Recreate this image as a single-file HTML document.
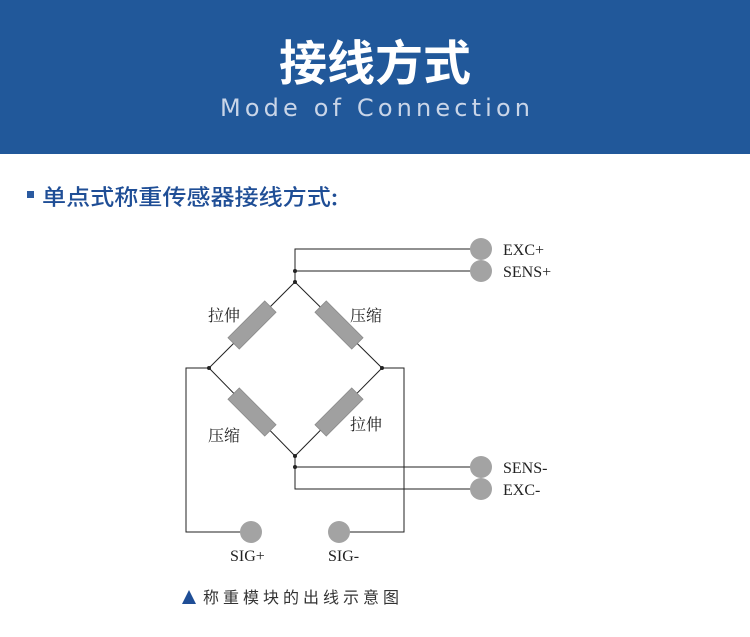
<!DOCTYPE html>
<html><head><meta charset="utf-8"><style>
body{margin:0;width:750px;height:632px;background:#fff;overflow:hidden}
</style></head><body>
<svg width="750" height="632" viewBox="0 0 750 632" xmlns="http://www.w3.org/2000/svg">
<rect x="0" y="0" width="750" height="154" fill="#21589a"/>
<text x="375" y="80" text-anchor="middle" font-family="Noto Sans CJK SC, sans-serif" font-size="48" font-weight="bold" fill="#fff">接线方式</text>
<text x="220" y="116" textLength="310" lengthAdjust="spacing" font-family="DejaVu Sans, sans-serif" font-size="24" fill="#c9d5e8">Mode of Connection</text>
<rect x="27" y="191" width="7" height="7" fill="#2a5aa0"/>
<text x="42" y="205" font-family="Noto Sans CJK SC, sans-serif" font-size="22" font-weight="500" fill="#1f4e96" textLength="296" lengthAdjust="spacingAndGlyphs">单点式称重传感器接线方式:</text>
<g stroke="#222" stroke-width="1" fill="none">
<polyline points="295,282 295,249 471,249"/>
<line x1="295" y1="271" x2="471" y2="271"/>
<polygon points="295,282 382,368 295,456 209,368"/>
<polyline points="295,456 295,489 471,489"/>
<line x1="295" y1="467" x2="471" y2="467"/>
<polyline points="209,368 186,368 186,532 241,532"/>
<polyline points="382,368 404,368 404,532 349,532"/>
</g>
<g fill="#222"><circle cx="295" cy="271" r="2"/><circle cx="295" cy="282" r="2"/><circle cx="209" cy="368" r="2"/><circle cx="382" cy="368" r="2"/><circle cx="295" cy="456" r="2"/><circle cx="295" cy="467" r="2"/></g>
<g fill="#a0a0a0" stroke="#8a8a8a" stroke-width="0.8">
<rect x="-26" y="-8" width="52" height="16" transform="translate(252,325) rotate(-45)"/>
<rect x="-26" y="-8" width="52" height="16" transform="translate(339,325) rotate(45)"/>
<rect x="-26" y="-8" width="52" height="16" transform="translate(252,412) rotate(45)"/>
<rect x="-26" y="-8" width="52" height="16" transform="translate(339,412) rotate(-45)"/>
</g>
<g fill="#a3a3a3">
<circle cx="481" cy="249" r="11"/><circle cx="481" cy="271" r="11"/>
<circle cx="481" cy="467" r="11"/><circle cx="481" cy="489" r="11"/>
<circle cx="251" cy="532" r="11"/><circle cx="339" cy="532" r="11"/>
</g>
<g font-family="Liberation Serif, Noto Serif CJK SC, serif" font-size="16" fill="#222">
<text x="503" y="255">EXC+</text><text x="503" y="277">SENS+</text>
<text x="503" y="473">SENS-</text><text x="503" y="495">EXC-</text>
<text x="230" y="561">SIG+</text><text x="328" y="561">SIG-</text>
<text x="208" y="321">拉伸</text><text x="350" y="321">压缩</text>
<text x="208" y="441">压缩</text><text x="350" y="430">拉伸</text>
</g>
<polygon points="189,590 182,604 196,604" fill="#1f4e96"/>
<text x="203" y="603" font-family="Noto Sans CJK SC, sans-serif" font-size="16" fill="#333" textLength="196" lengthAdjust="spacing">称重模块的出线示意图</text>
</svg>
</body></html>
